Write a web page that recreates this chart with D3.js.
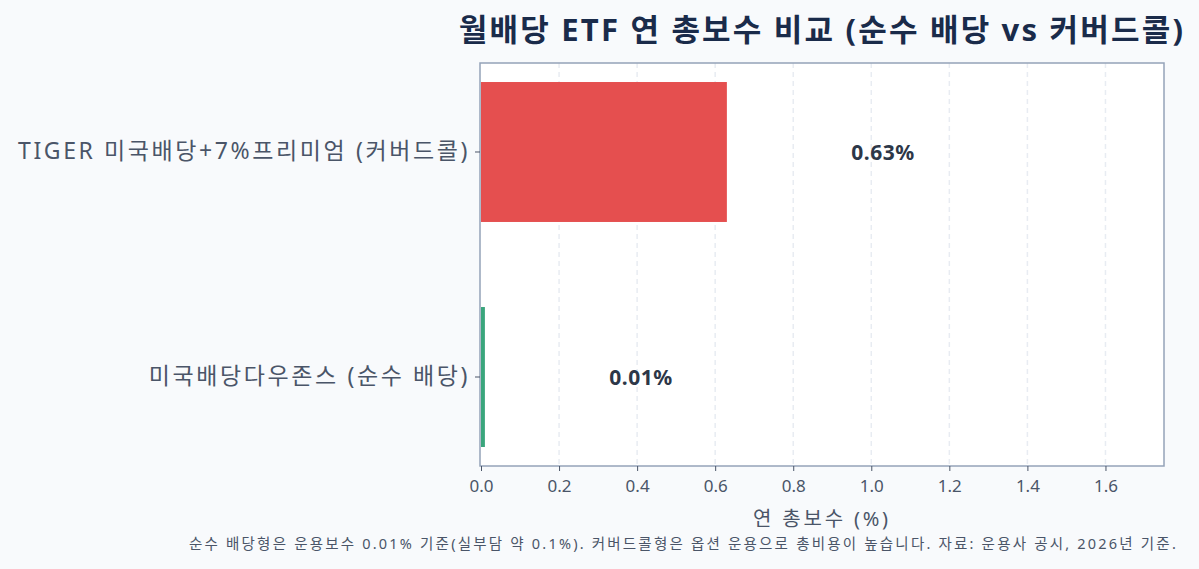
<!DOCTYPE html>
<html>
<head>
<meta charset="utf-8">
<script src="https://cdn.jsdelivr.net/npm/d3@7"></script>
<style>
  body { margin: 0; background: #f8fafc; }
  svg { display: block; font-family: "Noto Sans", "Noto Sans CJK KR", sans-serif; }
</style>
</head>
<body>
<div id="chart"></div>
<script>
// data
const categories = ['TIGER 미국배당+7%프리미엄 (커버드콜)', '미국배당다우존스 (순수 배당)']
const fees = [0.63, 0.01]
const barColors = ['#e54f4f', '#3aa57c']
const xTicks = [0.0, 0.2, 0.4, 0.6, 0.8, 1.0, 1.2, 1.4, 1.6]

const width = 1199, height = 569
const plotL = 480, plotR = 1164, plotT = 63, plotB = 466

let svg = d3.select('#chart').append('svg')
  .attr('width', width).attr('height', height)

svg.append('rect').attr('width', width).attr('height', height).attr('fill', '#f8fafc')

// plot background
svg.append('rect')
  .attr('x', plotL).attr('y', plotT)
  .attr('width', plotR - plotL).attr('height', plotB - plotT)
  .attr('fill', '#ffffff')

let x = d3.scaleLinear().domain([0, 1.75]).range([plotL + 1, plotR])
let y = d3.scaleBand().domain(categories).range([plotT, plotB])
  .paddingInner(0.378).paddingOuter(0.0845)

// grid lines
svg.selectAll('.grid')
  .data(xTicks.slice(1))
  .enter()
  .append('line')
  .attr('class', 'grid')
  .attr('x1', d => x(d)).attr('x2', d => x(d))
  .attr('y1', plotT).attr('y2', plotB)
  .attr('stroke', '#e8ecf2').attr('stroke-width', 1.5)
  .attr('stroke-dasharray', '5,4')

// bars
svg.selectAll('.bar')
  .data(categories)
  .enter()
  .append('rect')
  .attr('class', 'bar')
  .attr('x', x(0))
  .attr('y', d => y(d))
  .attr('width', (d, i) => x(fees[i]) - x(0))
  .attr('height', y.bandwidth())
  .attr('fill', (d, i) => barColors[i])

// value labels (offset by 0.4 to the right of the bar end)
svg.selectAll('.val')
  .data(categories)
  .enter()
  .append('text')
  .attr('class', 'val')
  .attr('x', (d, i) => x(fees[i] + 0.4))
  .attr('y', d => y(d) + y.bandwidth() / 2)
  .attr('text-anchor', 'middle')
  .attr('dominant-baseline', 'central')
  .attr('font-size', 21).attr('font-weight', 'bold')
  .attr('letter-spacing', 0.5)
  .attr('fill', '#2d3748')
  .text((d, i) => fees[i].toFixed(2) + '%')

// frame
svg.append('rect')
  .attr('x', plotL).attr('y', plotT)
  .attr('width', plotR - plotL).attr('height', plotB - plotT)
  .attr('fill', 'none').attr('stroke', '#94a3b8').attr('stroke-width', 1.5)

// x axis
let xAxis = svg.append('g')
  .attr('transform', `translate(0,${plotB})`)
  .call(d3.axisBottom(x).tickValues(xTicks).tickFormat(d3.format('.1f')).tickSize(5).tickPadding(9))
xAxis.select('.domain').remove()
xAxis.selectAll('line').attr('stroke', '#4a5568')
xAxis.selectAll('text').attr('font-size', 17).attr('fill', '#4a5568')
  .attr('font-family', '"Noto Sans", sans-serif')

// y axis
let yAxis = svg.append('g')
  .attr('transform', `translate(${plotL},0)`)
  .call(d3.axisLeft(y).tickSize(5).tickPadding(5))
yAxis.select('.domain').remove()
yAxis.selectAll('line').attr('stroke', '#4a5568')
yAxis.selectAll('text').attr('font-size', 23).attr('fill', '#4a5568')
  .attr('letter-spacing', 2.6)
  .attr('font-family', '"Noto Sans", "Noto Sans CJK KR", sans-serif')

// axis title
svg.append('text')
  .attr('x', (plotL + plotR) / 2).attr('y', 526)
  .attr('text-anchor', 'middle')
  .attr('font-size', 20).attr('fill', '#4a5568')
  .attr('letter-spacing', 2.8)
  .text('연 총보수 (%)')

// chart title
svg.append('text')
  .attr('x', (plotL + plotR) / 2).attr('y', 41)
  .attr('text-anchor', 'middle')
  .attr('font-size', 31).attr('font-weight', 'bold')
  .attr('letter-spacing', 2.2)
  .attr('fill', '#1a2b4a')
  .text('월배당 ETF 연 총보수 비교 (순수 배당 vs 커버드콜)')

// footnote
svg.append('text')
  .attr('x', 1178).attr('y', 549)
  .attr('text-anchor', 'end')
  .attr('font-size', 14.5).attr('fill', '#4a5568')
  .attr('letter-spacing', 2.2)
  .text('순수 배당형은 운용보수 0.01% 기준(실부담 약 0.1%). 커버드콜형은 옵션 운용으로 총비용이 높습니다. 자료: 운용사 공시, 2026년 기준.')
</script>
</body>
</html>
